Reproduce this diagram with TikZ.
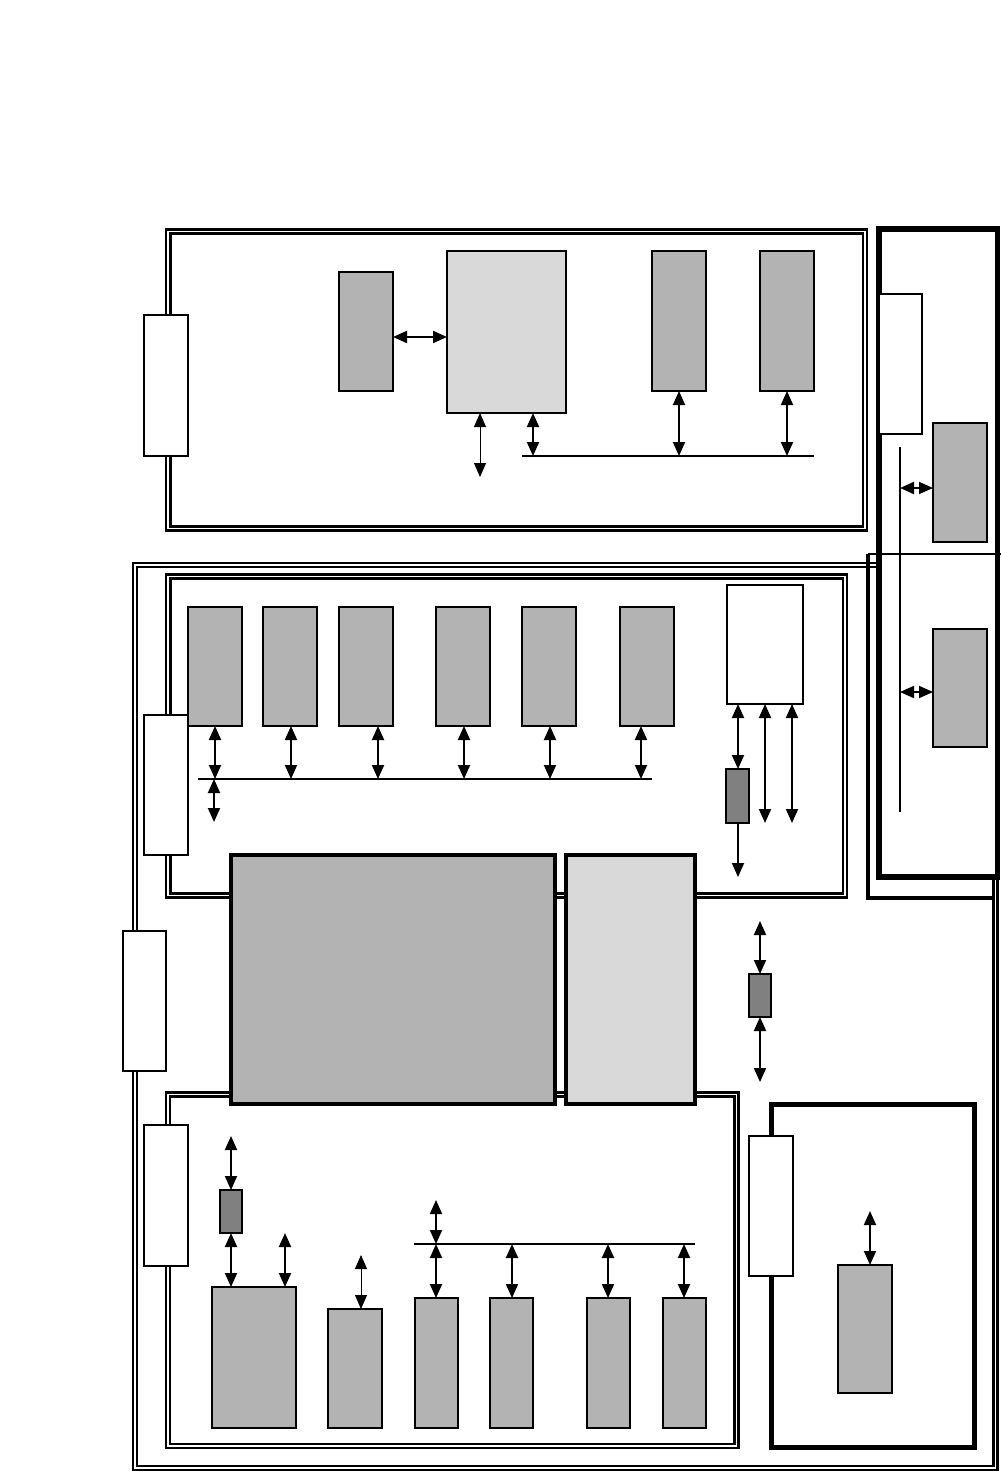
\documentclass[tikz,border=0pt]{standalone}
\usetikzlibrary{arrows.meta,calc}
\definecolor{gmid}{HTML}{B3B3B3}
\definecolor{glight}{HTML}{D9D9D9}
\definecolor{gdark}{HTML}{808080}
\newcommand\bx[6]{\node[#1,minimum width={(#4)-(#2)},minimum height={(#5)-(#3)}] (#6) at ({((#2)+(#4))/2},{((#3)+(#5))/2}) {};}
\begin{document}
\begin{tikzpicture}[x=1pt,y=-1pt,
 box/.style={draw,line width=1.8pt,inner sep=0pt,outer sep=0pt,rectangle},
 gbox/.style={box,fill=gmid},
 lbox/.style={box,fill=glight},
 dbox/.style={box,fill=gdark},
 wbox/.style={box,fill=white},
 bigbox/.style={box,line width=3.4pt},
 frame/.style={draw,line width=2.2pt},
 heavy/.style={draw,line width=5.5pt},
 bus/.style={draw,line width=2.6pt},
 biarr/.style={line width=1.9pt,{Triangle[length=14pt,width=12pt]}-{Triangle[length=14pt,width=12pt]}},
 thinarr/.style={biarr,line width=0.9pt},
 downarr/.style={line width=1.9pt,-{Triangle[length=14pt,width=12pt]}}]
\useasboundingbox (0,0) rectangle (1001,1472);
% ---------- top section ----------
\draw[frame] (166,229.5) rectangle (867,530.5);
\draw[frame] (170.5,233.5) rectangle (863,526.5);
\bx{wbox}{144}{315}{188}{456}{conT}
\bx{gbox}{339}{272}{393}{391}{tA}
\bx{lbox}{447}{251}{566}{413}{tB}
\bx{gbox}{652}{251}{706}{391}{tC}
\bx{gbox}{760}{251}{814}{391}{tD}
\coordinate (busTL) at (522,456);
\coordinate (busTR) at (814,456);
\draw[bus] (busTL) -- (busTR);
\coordinate (tAB) at (393,337);
\draw[biarr] (tAB) -- (tAB -| tB.west);
\coordinate (tBout) at (480,477);
\draw[thinarr] (tB.south -| tBout) -- (tBout);
\coordinate (tBbus) at (533,456);
\draw[biarr] (tB.south -| tBbus) -- (tBbus);
\draw[biarr] (tC.south) -- (tC.south |- busTL);
\draw[biarr] (tD.south) -- (tD.south |- busTL);
% ---------- main outer frame ----------
\draw[frame] (133,563) rectangle (997.5,1470);
\draw[frame] (137,567) rectangle (993.5,1466);
% ---------- right thick box ----------
\draw[heavy,fill=white] (879,229) rectangle (997.5,877);
\draw[line width=2pt] (868,554) -- (1001,554);
\draw[line width=4pt] (868,554) -- (868,898) -- (995,898);
\bx{wbox}{879}{294}{922}{434}{conR}
\bx{gbox}{933}{423}{987}{542}{rA}
\bx{gbox}{933}{629}{987}{747}{rB}
\coordinate (vbT) at (900,447);
\coordinate (vbB) at (900,812);
\draw[bus] (vbT) -- (vbB);
\coordinate (rAy) at (900,488);
\coordinate (rBy) at (900,692);
\draw[biarr] (rAy) -- (rAy -| rA.west);
\draw[biarr] (rBy) -- (rBy -| rB.west);
% ---------- middle section ----------
\draw[frame] (166,574.5) rectangle (847,897.5);
\draw[frame] (170.5,578.5) rectangle (843,893.5);
\bx{wbox}{144}{715}{188}{855}{conM}
\bx{gbox}{188}{607}{242}{726}{m1}
\bx{gbox}{263}{607}{317}{726}{m2}
\bx{gbox}{339}{607}{393}{726}{m3}
\bx{gbox}{436}{607}{490}{726}{m4}
\bx{gbox}{522}{607}{576}{726}{m5}
\bx{gbox}{620}{607}{674}{726}{m6}
\bx{wbox}{727}{585}{803}{704}{mW}
\bx{dbox}{726}{769}{749}{823}{mD}
\coordinate (busML) at (198,779);
\coordinate (busMR) at (652,779);
\draw[bus] (busML) -- (busMR);
\foreach \n/\xx in {m1/215,m2/291,m3/378,m4/464,m5/550,m6/641}{
  \coordinate (\n a) at (\xx,726);
  \draw[biarr] (\n a) -- (\n a |- busML);
}
\coordinate (busMout) at (214,822);
\draw[biarr] (busMout |- busML) -- (busMout);
\coordinate (mWa) at (738,704);
\draw[biarr] (mWa) -- (mWa |- mD.north);
\coordinate (mDout) at (738,877);
\draw[downarr] (mDout |- mD.south) -- (mDout);
\coordinate (mWb) at (765,823);
\coordinate (mWc) at (792,823);
\draw[biarr] (mWb |- mW.south) -- (mWb);
\draw[biarr] (mWc |- mW.south) -- (mWc);
% ---------- bottom section ----------
\draw[frame] (166,1092.5) rectangle (738.5,1448);
\draw[frame] (170,1096.5) rectangle (734.5,1444);
\bx{wbox}{144}{1125}{188}{1266}{conB}
\bx{dbox}{220}{1190}{242}{1233}{bD}
\bx{gbox}{212}{1287}{296}{1428}{b1}
\bx{gbox}{328}{1309}{382}{1428}{b2}
\bx{gbox}{415}{1298}{458}{1428}{b3}
\bx{gbox}{490}{1298}{533}{1428}{b4}
\bx{gbox}{587}{1298}{630}{1428}{b5}
\bx{gbox}{663}{1298}{706}{1428}{b6}
\coordinate (bDin) at (231,1136);
\draw[biarr] (bDin) -- (bDin |- bD.north);
\draw[biarr] (bD.south) -- (bD.south |- b1.north);
\coordinate (b1b) at (285,1233);
\draw[biarr] (b1b) -- (b1b |- b1.north);
\coordinate (b2in) at (361,1255);
\draw[thinarr] (b2in) -- (b2in |- b2.north);
\coordinate (busBL) at (414,1244);
\coordinate (busBR) at (695,1244);
\draw[bus] (busBL) -- (busBR);
\coordinate (busBin) at (436,1200);
\draw[biarr] (busBin) -- (busBin |- busBL);
\foreach \n/\xx in {b3/436,b4/512,b5/608,b6/684}{
  \coordinate (\n t) at (\xx,1244);
  \draw[biarr] (\n t) -- (\n t |- \n.north);
}
% ---------- bottom right thick box ----------
\draw[line width=5pt] (771,1104) rectangle (974.5,1447);
\bx{wbox}{749}{1136}{793}{1276}{conBR}
\bx{gbox}{838}{1265}{892}{1393}{brA}
\coordinate (brin) at (870,1211);
\draw[biarr] (brin) -- (brin |- brA.north);
% ---------- left connector of main frame ----------
\bx{wbox}{123}{931}{166}{1071}{conMain}
% ---------- big boxes ----------
\bx{bigbox,fill=gmid}{231}{855}{555}{1104}{big}
\bx{bigbox,fill=glight}{566}{855}{695}{1104}{bigL}
\bx{dbox}{749}{974}{771}{1017}{sD}
\coordinate (sDin) at (760,921);
\coordinate (sDout) at (760,1082);
\draw[biarr] (sDin) -- (sDin |- sD.north);
\draw[biarr] (sD.south) -- (sDout);
\end{tikzpicture}
\end{document}
